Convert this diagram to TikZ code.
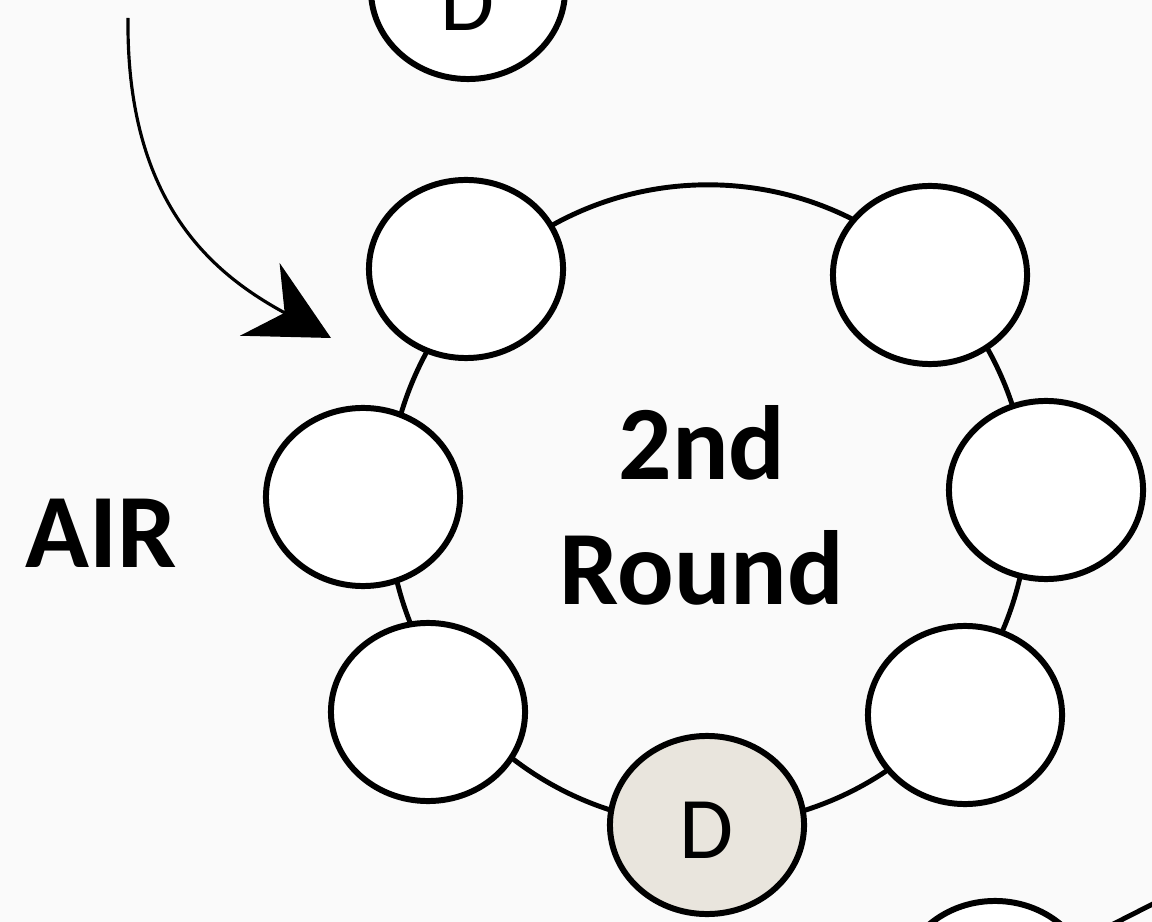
\documentclass[tikz,border=0pt]{standalone}
\usepackage{fontspec}
\newfontfamily\lblfont{Carlito}
\usetikzlibrary{arrows.meta,shapes.geometric}
\definecolor{paper}{HTML}{FAFAFA}
\definecolor{dseat}{HTML}{E9E5DD}
\begin{document}
\begin{tikzpicture}[x=0.01cm,y=-0.01cm,
  seat/.style={ellipse, draw=black, line width=1.7pt, fill=white,
    minimum width=1.94cm, minimum height=1.78cm, inner sep=0pt,
    font=\lblfont\fontsize{25}{25}\selectfont},
  dseat/.style={seat, fill=dseat},
  ring/.style={draw=black, line width=1.4pt},
  big/.style={font=\lblfont\bfseries\fontsize{30}{35.5}\selectfont, align=center},
  flow/.style={line width=0.9pt, -{Stealth[length=23pt, width=23.5pt, inset=8pt]}}]
\useasboundingbox (0,0) rectangle (1152,922);
\fill[paper] (0,0) rectangle (1152,922);

% ring of the second round
\coordinate (hub) at (708,505);
\draw[ring] (hub) circle[radius=3.2cm];

% seats around the ring
\node[seat] (tl) at (466,269) {};
\node[seat] (tr) at (930,275) {};
\node[seat] (ml) at (363,497) {};
\node[seat] (mr) at (1046,490) {};
\node[seat] (bl) at (428,712) {};
\node[seat] (br) at (965,715) {};
\node[dseat, text height=18.8pt, text depth=0pt] (d2) at (707,825) {D};

% seat of the previous round, cut by the top edge
\node[seat, text height=23pt, text depth=0pt] (d1) at (468,-10) {D};

% next round, cut by the bottom edge
\node[seat] (nx) at (995,990) {};
\coordinate (nxout) at (1200,880);
\draw[ring] (nx.30) -- (nxout);

% labels
\node[big] (title) at (702,505) {2nd\\Round};
\node[font=\lblfont\bfseries\fontsize{30}{30}\selectfont] (air) at (101,533) {AIR};

% move of the D seat into this round
\coordinate (from) at (128,18);
\coordinate (to) at (331,338);
\draw[flow] (from) .. controls (126,205) and (215,275) .. (to);
\end{tikzpicture}
\end{document}
